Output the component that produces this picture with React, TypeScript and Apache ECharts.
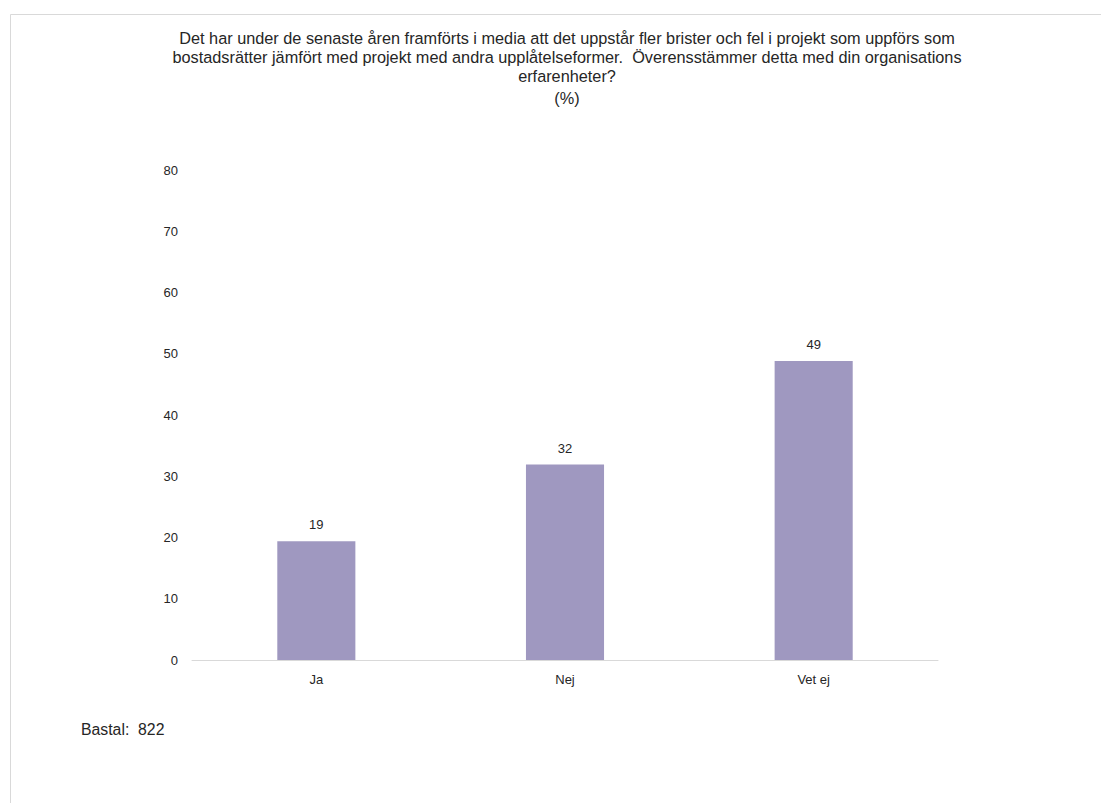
import React, { useEffect, useRef } from "react";
import * as echarts from "echarts";

const titleLines = [
  "Det har under de senaste åren framförts i media att det uppstår fler brister och fel i projekt som uppförs som",
  "bostadsrätter jämfört med projekt med andra upplåtelseformer.  Överensstämmer detta med din organisations",
  "erfarenheter?",
];
const unitText = "(%)";
const categories = ["Ja", "Nej", "Vet ej"];
const values = [19.4, 31.9, 48.8];
const labels = ["19", "32", "49"];
const baseText = "Bastal:  822";

const FONT = "'Liberation Sans', Arial, sans-serif";
const TEXT = "#262626";

export default function App() {
  const ref = useRef<HTMLDivElement>(null);
  useEffect(() => {
    if (!ref.current) return;
    const chart = echarts.init(ref.current, undefined, { renderer: "svg" });
    const titleStyle = {
      fontFamily: FONT,
      fontSize: 16.3,
      fontWeight: "normal",
      color: TEXT,
      lineHeight: 18.7,
    };
    chart.setOption({
      animation: false,
      backgroundColor: "#ffffff",
      textStyle: { fontFamily: FONT },
      title: [
        {
          text: titleLines.join("\n"),
          left: 567,
          top: 29,
          padding: 0,
          textAlign: "center",
          textStyle: titleStyle,
        },
        {
          text: unitText,
          left: 567,
          top: 89,
          padding: 0,
          textAlign: "center",
          textStyle: titleStyle,
        },
      ],
      grid: { left: 192, right: 163, top: 170, bottom: 143, containLabel: false },
      xAxis: {
        type: "category",
        data: categories,
        axisLine: { lineStyle: { color: "#d9d9d9", width: 1 } },
        axisTick: { show: false },
        axisLabel: { color: TEXT, fontSize: 13, fontFamily: FONT, margin: 13 },
      },
      yAxis: {
        type: "value",
        min: 0,
        max: 80,
        interval: 10,
        splitLine: { show: false },
        axisLine: { show: false },
        axisTick: { show: false },
        axisLabel: { color: TEXT, fontSize: 13, fontFamily: FONT, margin: 14 },
      },
      series: [
        {
          type: "bar",
          data: values,
          barWidth: "31.4%",
          itemStyle: { color: "#9f98c0" },
          label: {
            show: true,
            position: "top",
            distance: 10,
            color: TEXT,
            fontSize: 13,
            fontFamily: FONT,
            formatter: (p: any) => labels[p.dataIndex],
          },
        },
      ],
      graphic: [
        {
          type: "rect",
          shape: { x: 10.5, y: 14.5, width: 1200, height: 900 },
          style: { fill: "none", stroke: "#d9d9d9", lineWidth: 1 },
          silent: true,
        },
        {
          type: "text",
          x: 81,
          y: 729,
          style: {
            text: baseText,
            fill: TEXT,
            font: `15.8px ${FONT}`,
            textVerticalAlign: "middle",
          },
        },
      ],
    });
    return () => chart.dispose();
  }, []);
  return (
    <div
      ref={ref}
      style={{ position: "fixed", left: 0, top: 0, width: 1101, height: 803 }}
    />
  );
}
